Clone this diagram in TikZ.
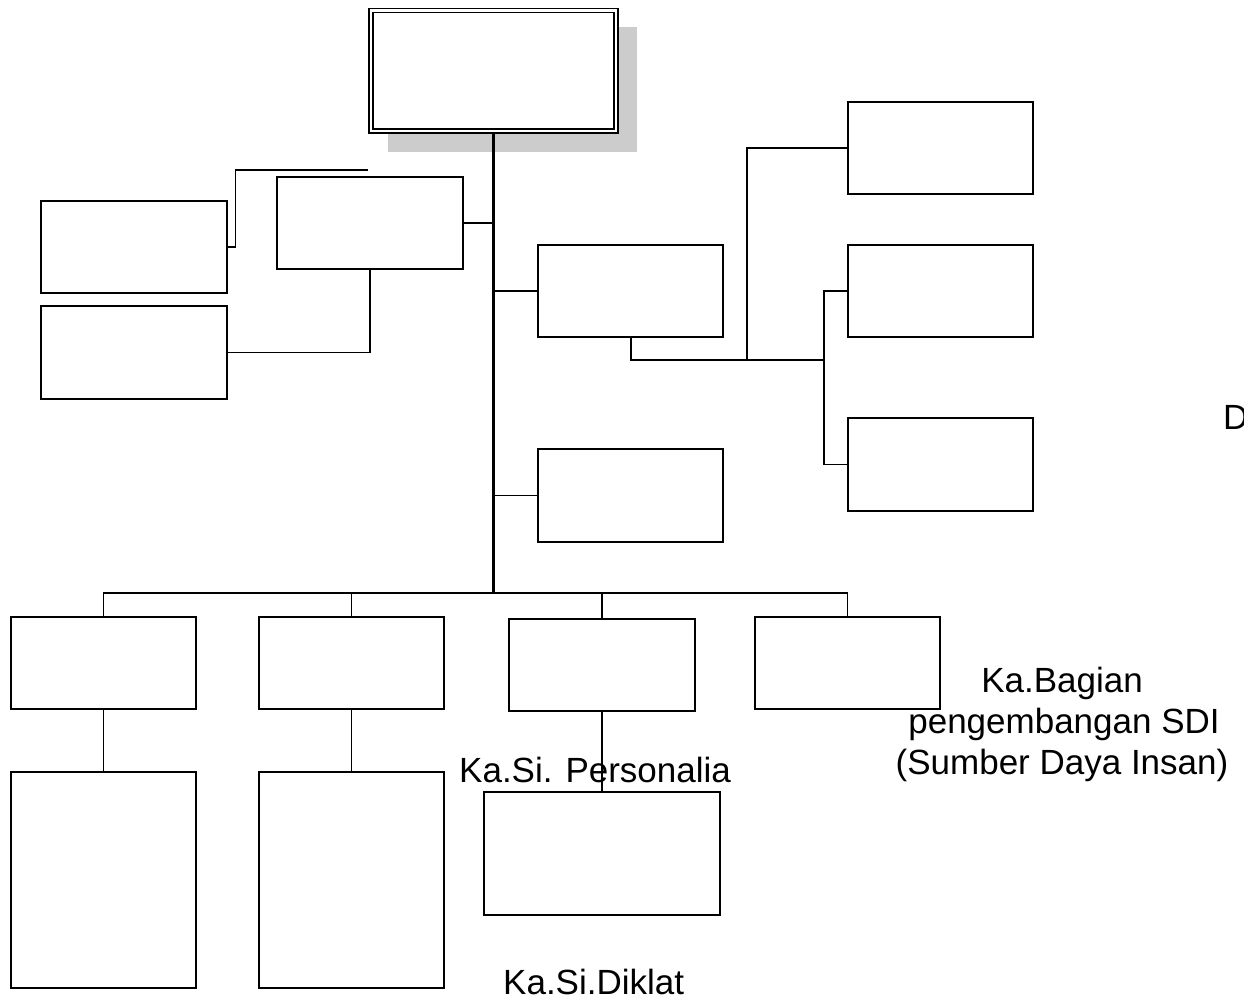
\documentclass[tikz,border=0pt]{standalone}
\usepackage{fontspec}
\setmainfont{Liberation Sans}
\begin{document}
\begin{tikzpicture}[x=1pt,y=-1pt,
  box/.style={draw=black,line width=1.4pt,inner sep=0pt,fill=white},
  link/.style={draw=black,line width=1.4pt},
  trunk/.style={draw=black,line width=2.6pt},
  lbl/.style={inner sep=0pt,font=\fontsize{35}{41}\selectfont}]
\useasboundingbox (0,0) rectangle (1244,999);

% shadow behind the head box
\fill[black!20] (388,27) rectangle (637,152);

% head box with double frame
\node[draw=black,double,double distance=2.4pt,line width=1.4pt,fill=white,inner sep=0pt,
      minimum width=245pt,minimum height=120.5pt] (head) at (493.5,70.75) {};

% boxes, placed by centre with width/height
\newcommand{\orgbox}[5]{\node[box,minimum width=#4pt,minimum height=#5pt] (#1) at (#2,#3) {};}
\orgbox{A}{370}{223}{186}{92}
\orgbox{Ba}{134}{247}{186}{92}
\orgbox{Bb}{134}{352.5}{186}{93}
\orgbox{C}{630.5}{291}{185}{92}
\orgbox{D}{630.5}{495.5}{185}{93}
\orgbox{Ra}{940.5}{148}{185}{92}
\orgbox{Rb}{940.5}{291}{185}{92}
\orgbox{Rc}{940.5}{464.5}{185}{93}
\orgbox{Ea}{103.5}{663}{185}{92}
\orgbox{Eb}{351.5}{663}{185}{92}
\orgbox{Ec}{602}{665}{186}{92}
\orgbox{Ed}{847.5}{663}{185}{92}
\orgbox{Fa}{103.5}{880}{185}{216}
\orgbox{Fb}{351.5}{880}{185}{216}
\orgbox{Fc}{602}{853.5}{236}{123}

% junction points
\coordinate (bus) at (493.5,593);
\coordinate (cj) at (824,360);
\coordinate (kj) at (747,360);
\coordinate (baend) at (368,170);

% main trunk
\draw[trunk] (head.south) -- (bus);

% branches off the trunk
\draw[link] (A.east) -- (A.east -| head.south);
\draw[link] (C.west) -- (C.west -| head.south);
\draw[link] (D.west) -- (D.west -| head.south);

% left side
\draw[link] (Ba.east) -- ++(8,0) |- (baend);
\draw[link] (Bb.east) -| (A.south);

% right side
\draw[line width=2pt] (C.south) |- (cj);
\draw[link] (kj) |- (Ra.west);
\draw[line width=1.8pt] (cj) |- (Rb.west);
\draw[line width=1.8pt] (cj) |- (Rc.west);

% bottom row
\draw[link] (Ea.north) |- (bus) -| (Ed.north);
\draw[link] (Eb.north) -- (Eb.north |- bus);
\draw[link] (Ec.north) -- (Ec.north |- bus);
\draw[link] (Ea.south) -- (Fa.north);
\draw[link] (Eb.south) -- (Fb.north);
\draw[link] (Ec.south) -- (Fc.north);

% labels
\node[lbl,anchor=base west] (personalia) at (459,782) {Ka.Si. Personalia};
\node[lbl,anchor=base west] (diklat) at (503,994) {Ka.Si.Diklat};
\node[lbl,anchor=base] (bagA) at (1062,692) {Ka.Bagian};
\node[lbl,anchor=base] (bagB) at (1064,733) {pengembangan SDI};
\node[lbl,anchor=base] (bagC) at (1062,774) {(Sumber Daya Insan)};
\node[lbl,anchor=base west] (dlbl) at (1223,429) {D};
\end{tikzpicture}
\end{document}
